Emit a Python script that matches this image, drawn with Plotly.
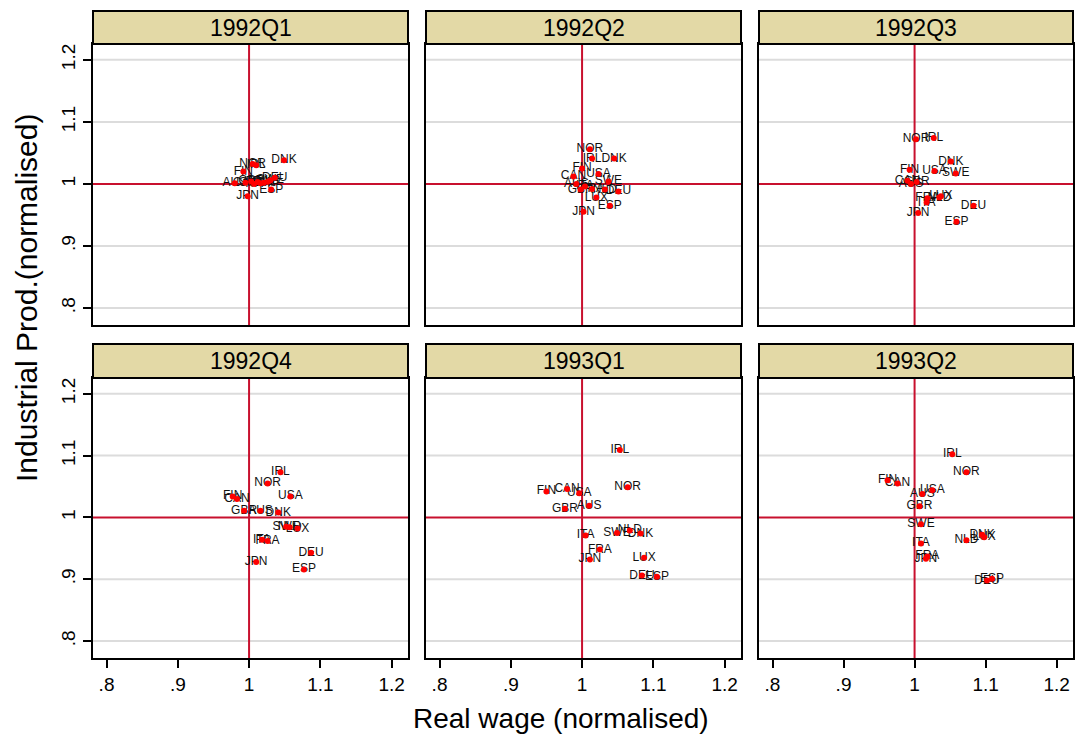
import plotly.graph_objects as go

quarters = ["1992Q1", "1992Q2", "1992Q3", "1992Q4", "1993Q1", "1993Q2"]
countries = ["AUS", "CAN", "DEU", "DNK", "ESP", "FIN", "FRA", "GBR",
             "IRL", "ITA", "JPN", "LUX", "NLD", "NOR", "SWE", "USA"]

# Real wage (x) and industrial production (y), normalised, per quarter
wage_1992Q1 = [0.980, 0.995, 1.036, 1.049, 1.031, 0.992, 1.012, 1.003,
               1.010, 1.007, 0.998, 1.021, 1.027, 1.005, 1.030, 1.016]
prod_1992Q1 = [1.001, 1.002, 1.010, 1.038, 0.991, 1.020, 1.003, 1.004,
               1.030, 1.000, 0.980, 1.002, 1.004, 1.032, 1.006, 1.001]

wage_1992Q2 = [0.992, 0.988, 1.051, 1.045, 1.039, 1.000, 1.014, 0.998,
               1.014, 1.004, 1.002, 1.020, 1.032, 1.011, 1.037, 1.023]
prod_1992Q2 = [1.000, 1.012, 0.988, 1.041, 0.965, 1.025, 0.992, 0.991,
               1.041, 0.996, 0.955, 0.978, 0.991, 1.056, 1.004, 1.016]

wage_1992Q3 = [0.995, 0.990, 1.083, 1.051, 1.059, 0.993, 1.018, 1.003,
               1.027, 1.017, 1.005, 1.037, 1.035, 1.002, 1.058, 1.028]
prod_1992Q3 = [1.000, 1.005, 0.965, 1.036, 0.939, 1.023, 0.977, 1.003,
               1.074, 0.970, 0.953, 0.980, 0.978, 1.072, 1.017, 1.021]

wage_1992Q4 = [1.016, 0.983, 1.087, 1.041, 1.077, 0.977, 1.026, 0.993,
               1.044, 1.018, 1.010, 1.068, 1.057, 1.026, 1.052, 1.058]
prod_1992Q4 = [1.011, 1.030, 0.943, 1.008, 0.916, 1.034, 0.962, 1.011,
               1.073, 0.964, 0.928, 0.982, 0.984, 1.055, 0.985, 1.034]

wage_1993Q1 = [1.010, 0.979, 1.084, 1.082, 1.105, 0.950, 1.025, 0.976,
               1.053, 1.005, 1.011, 1.087, 1.067, 1.064, 1.049, 0.996]
prod_1993Q1 = [1.019, 1.046, 0.906, 0.974, 0.904, 1.042, 0.948, 1.014,
               1.109, 0.971, 0.932, 0.935, 0.979, 1.049, 0.975, 1.039]

wage_1993Q2 = [1.011, 0.976, 1.102, 1.095, 1.109, 0.962, 1.018, 1.007,
               1.053, 1.009, 1.016, 1.098, 1.073, 1.073, 1.009, 1.025]
prod_1993Q2 = [1.038, 1.055, 0.898, 0.972, 0.901, 1.060, 0.937, 1.018,
               1.102, 0.958, 0.933, 0.968, 0.963, 1.073, 0.989, 1.044]

tick_vals = [0.8, 0.9, 1.0, 1.1, 1.2]
tick_text = [".8", ".9", "1", "1.1", "1.2"]

wages = [wage_1992Q1, wage_1992Q2, wage_1992Q3, wage_1992Q4, wage_1993Q1, wage_1993Q2]
prods = [prod_1992Q1, prod_1992Q2, prod_1992Q3, prod_1992Q4, prod_1993Q1, prod_1993Q2]

W, H = 1075, 735
col_px = [(93, 408), (426, 741), (759, 1073)]
row_px = [(44, 325), (378, 658)]
strip_px = [(11, 44), (344, 378)]

FONT = "Liberation Sans, Arial, sans-serif"
STRIP = "#E3D9A6"
REF = "#C8102E"

fig = go.Figure()
layout = dict(
    width=W, height=H, margin=dict(l=0, r=0, t=0, b=0),
    paper_bgcolor="white", plot_bgcolor="white", showlegend=False,
    font=dict(family=FONT, color="black"),
)
shapes = []
annotations = []

for i, q in enumerate(quarters):
    r, c = divmod(i, 3)
    n = i + 1
    xa = "x" if n == 1 else f"x{n}"
    ya = "y" if n == 1 else f"y{n}"
    xkey = "xaxis" if n == 1 else f"xaxis{n}"
    ykey = "yaxis" if n == 1 else f"yaxis{n}"
    x0, x1 = col_px[c]
    y0, y1 = row_px[r]
    bottom = r == 1
    left = c == 0
    layout[xkey] = dict(
        domain=[x0 / W, x1 / W], anchor=ya, range=[0.781, 1.223],
        showgrid=False, zeroline=False,
        showline=True, mirror=True, linecolor="black", linewidth=2,
        tickmode="array", tickvals=tick_vals, ticktext=tick_text,
        ticks="outside" if bottom else "", ticklen=8, tickwidth=2, tickcolor="black",
        showticklabels=bottom, tickfont=dict(size=19, color="black", family=FONT),
    )
    layout[ykey] = dict(
        domain=[1 - y1 / H, 1 - y0 / H], anchor=xa, range=[0.7727, 1.2255],
        showgrid=False, zeroline=False,
        showline=True, mirror=True, linecolor="black", linewidth=2,
        tickmode="array", tickvals=tick_vals, ticktext=tick_text,
        ticks="outside" if left else "", ticklen=8, tickwidth=2, tickcolor="black",
        showticklabels=left, tickangle=-90,
        tickfont=dict(size=19, color="black", family=FONT),
    )
    # light horizontal grid lines at the tick values (except 1, which is the red line)
    for tv in tick_vals:
        if tv == 1.0:
            continue
        shapes.append(dict(type="line", xref=f"{xa} domain", yref=ya, x0=0, x1=1,
                           y0=tv, y1=tv, line=dict(color="#DCDCDC", width=2),
                           layer="below"))
    # reference lines at 1
    shapes.append(dict(type="line", xref=xa, yref=f"{ya} domain", x0=1, x1=1, y0=0, y1=1,
                       line=dict(color=REF, width=2), layer="below"))
    shapes.append(dict(type="line", xref=f"{xa} domain", yref=ya, x0=0, x1=1, y0=1, y1=1,
                       line=dict(color=REF, width=2), layer="below"))
    # strip
    sy0, sy1 = strip_px[r]
    shapes.append(dict(type="rect", xref="paper", yref="paper",
                       x0=x0 / W, x1=x1 / W, y0=1 - sy1 / H, y1=1 - sy0 / H,
                       fillcolor=STRIP, line=dict(color="black", width=2), layer="above"))
    annotations.append(dict(text=q, xref="paper", yref="paper",
                            x=(x0 + x1) / 2 / W, y=1 - (sy0 + sy1) / 2 / H,
                            xanchor="center", yanchor="middle", showarrow=False,
                            font=dict(size=23, color="black", family=FONT)))
    # country labels
    fig.add_trace(go.Scatter(
        x=wages[i], y=prods[i], text=countries, mode="text",
        xaxis=xa, yaxis=ya, textposition="middle center",
        textfont=dict(size=12, color="#111111", family=FONT),
        cliponaxis=False, hoverinfo="skip",
    ))
    # red markers drawn on top of the labels
    fig.add_trace(go.Scatter(
        x=wages[i], y=prods[i], text=countries, mode="markers",
        xaxis=xa, yaxis=ya,
        marker=dict(color="#FF0000", size=6, line=dict(width=0)),
        cliponaxis=False, hoverinfo="text",
    ))

annotations.append(dict(text="Real wage (normalised)", xref="paper", yref="paper",
                        x=561 / W, y=1 - 718 / H, xanchor="center", yanchor="middle",
                        showarrow=False, font=dict(size=28, color="black", family=FONT)))
annotations.append(dict(text="Industrial Prod.(normalised)", xref="paper", yref="paper",
                        x=26 / W, y=1 - 298 / H, xanchor="center", yanchor="middle",
                        textangle=-90, showarrow=False,
                        font=dict(size=30, color="black", family=FONT)))

layout["shapes"] = shapes
layout["annotations"] = annotations
fig.update_layout(**layout)
fig.write_html("out.html", config={"displayModeBar": False},
               post_script="document.body.style.margin='0';document.body.style.overflow='hidden';")
